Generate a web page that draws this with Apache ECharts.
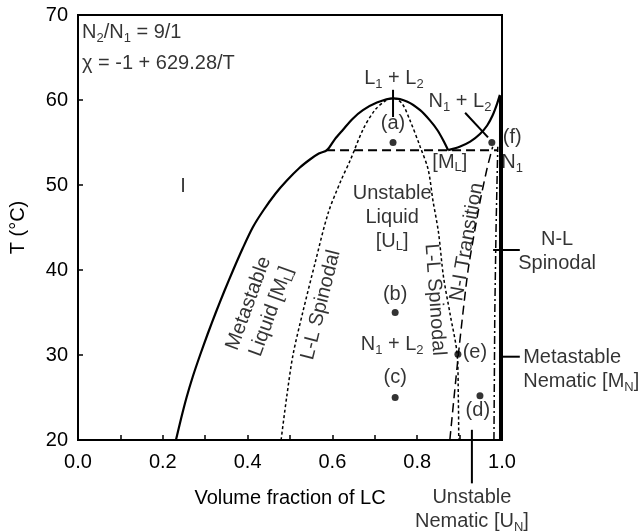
<!DOCTYPE html>
<html>
<head>
<meta charset="utf-8">
<script src="https://cdn.jsdelivr.net/npm/echarts@6/dist/echarts.min.js"></script>
<style>html,body{margin:0;padding:0;background:#fff}#c{width:641px;height:531px}</style>
</head>
<body>
<div id="c"></div>
<script>
// ---- data (x = volume fraction of LC, y = T in °C) ----
const xTicks = [0, 0.2, 0.4, 0.6, 0.8, 1.0];
const yTicks = [20, 30, 40, 50, 60, 70];
const binodalLiquid = [[0.231,20],[0.243,22.5],[0.256,25],[0.271,27.5],[0.288,30],[0.306,32.5],[0.325,35],[0.345,37.5],[0.366,40],[0.388,42.5],[0.412,45],[0.437,47],[0.466,49],[0.492,50.5],[0.522,52],[0.547,53],[0.568,53.7],[0.587,54.1],[0.606,55.4],[0.625,56.5],[0.648,57.8],[0.672,58.8],[0.705,59.7],[0.743,60.2],[0.777,59.8],[0.807,58.8],[0.83,57.6],[0.847,56.5],[0.861,55.3],[0.873,54.1]];
const binodalNematic = [[0.873,54.1],[0.90,54.5],[0.925,55.1],[0.948,56.0],[0.965,57.0],[0.978,58.2],[0.988,59.5],[0.995,60.6]];
const spinodalLL = [[0.479,20],[0.492,25],[0.507,30],[0.53,35],[0.559,40.8],[0.59,46.7],[0.62,50.5],[0.642,52.9],[0.672,56.5],[0.70,58.8],[0.725,59.9],[0.743,60.2],[0.764,59.6],[0.783,57.6],[0.807,54.5],[0.826,51.8],[0.837,48.2],[0.85,44.5],[0.862,39.2],[0.878,34.7],[0.894,30.2],[0.897,25],[0.898,20]];
const tripleLine = [[0.585,54.1],[0.99,54.1]];
const niTransition = [[0.877,20],[0.897,30],[0.92,40],[0.948,48],[0.965,52],[0.978,54.5]];
const nlSpinodal = [[0.981,20],[0.983,35],[0.986,45],[0.99,54.5]];
const nematicBoundary = [[0.997,20],[0.997,60.5]];
const statePoints = [[0.743,55],[0.748,35],[0.748,25],[0.948,25.2],[0.896,30.1],[0.976,55]];
const pointerLines = [
  [0.743,61.2, 0.743,58.0],
  [0.913,58.5, 0.967,55.6],
  [0.979,42.35, 1.042,42.35],
  [0.995,29.8, 1.042,29.8],
  [0.929,21.2, 0.929,14.9]
];
const annotations = [
  {t:'N{s|2}/N{s|1} = 9/1', p:[0.0094,67.9], align:'left'},
  {t:'χ = -1 + 629.28/T', p:[0.0094,64.35], align:'left'},
  {t:'I', p:[0.248,49.8]},
  {t:'L{s|1} + L{s|2}', p:[0.745,62.5]},
  {t:'(a)', p:[0.743,57.2]},
  {t:'N{s|1} + L{s|2}', p:[0.901,59.8]},
  {t:'(f)', p:[1.024,55.6]},
  {t:'N{s|1}', p:[1.024,52.6]},
  {t:'[M{s|L}]', p:[0.877,52.7]},
  {t:'Unstable\nLiquid\n[U{s|L}]', p:[0.741,46.2]},
  {t:'Metastable\nLiquid [M{s|L}]', p:[0.429,35.6], rot:70},
  {t:'L-L Spinodal', p:[0.573,35.9], rot:76},
  {t:'L-L Spinodal', p:[0.842,36.5], rot:-86},
  {t:'N-I Transition', p:[0.917,43.3], rot:80},
  {t:'N-L\nSpinodal', p:[1.13,42.2]},
  {t:'Metastable\nNematic [M{s|N}]', p:[1.05,28.3], align:'left'},
  {t:'Unstable\nNematic [U{s|N}]', p:[0.929,11.8]},
  {t:'N{s|1} + L{s|2}', p:[0.741,31.2]},
  {t:'(b)', p:[0.748,37.1]},
  {t:'(c)', p:[0.748,27.3]},
  {t:'(e)', p:[0.936,30.35]},
  {t:'(d)', p:[0.943,23.5]}
];

const FONT = 'Arial, "Liberation Sans", sans-serif';
const chart = echarts.init(document.getElementById('c'), null, {renderer:'canvas'});

function lineSeries(data, width, type, smooth) {
  return {
    type:'line', data:data, symbol:'none', smooth:smooth || false, clip:false, silent:true,
    lineStyle:{color:'#000', width:width, type:type || 'solid', cap:'butt'}, z:3
  };
}

const series = [
  lineSeries(binodalLiquid, 2.2, 'solid', 0.3),
  lineSeries(binodalNematic, 2.2, 'solid', 0.3),
  lineSeries(spinodalLL, 1.5, [3,2.5], 0.3),
  lineSeries(tripleLine, 2, [9,5]),
  lineSeries(niTransition, 1.5, [9,5], 0.2),
  lineSeries(nlSpinodal, 1.5, [8,3,2,3]),
  lineSeries(nematicBoundary, 3.5, 'solid')
];
series.push({
  type:'scatter', data:statePoints, symbol:'circle', symbolSize:7, clip:false,
  itemStyle:{color:'#000'}, z:5, silent:true
});
series.push({
  type:'scatter', clip:false, silent:true, symbolSize:0, z:6,
  itemStyle:{color:'rgba(0,0,0,0)'},
  data: annotations.map(function(a){
    return {
      value:a.p,
      label:{
        show:true, position:'inside', formatter:a.t,
        align:a.align || 'center', verticalAlign:'middle',
        rotate:a.rot || 0,
        color:'#000', fontFamily:FONT, fontSize:20, lineHeight:24,
        rich:{ s:{fontFamily:FONT, fontSize:13, lineHeight:10, verticalAlign:'bottom', color:'#000'} }
      }
    };
  })
});

chart.setOption({
  animation:false,
  backgroundColor:'#fff',
  grid:{left:78, top:15, width:424, height:425, show:true, borderColor:'#000', borderWidth:2, backgroundColor:'transparent'},
  xAxis:{
    type:'value', min:0, max:1, interval:0.1,
    name:'Volume fraction of LC', nameLocation:'middle', nameGap:48,
    nameTextStyle:{color:'#000', fontFamily:FONT, fontSize:20},
    axisLine:{show:true, lineStyle:{color:'#000', width:2}},
    axisTick:{show:true, inside:true, length:5, lineStyle:{color:'#000', width:1.5}},
    axisLabel:{color:'#000', fontFamily:FONT, fontSize:20, margin:12,
      formatter:function(v){
        for (let i=0;i<xTicks.length;i++){ if (Math.abs(v-xTicks[i])<1e-6) return xTicks[i].toFixed(1); }
        return '';
      }},
    splitLine:{show:false}
  },
  yAxis:{
    type:'value', min:20, max:70, interval:10,
    name:'T (°C)', nameLocation:'middle', nameGap:50, nameRotate:90,
    nameTextStyle:{color:'#000', fontFamily:FONT, fontSize:20},
    axisLine:{show:true, lineStyle:{color:'#000', width:2}},
    axisTick:{show:true, inside:true, length:5, lineStyle:{color:'#000', width:1.5}},
    axisLabel:{color:'#000', fontFamily:FONT, fontSize:20, margin:10,
      formatter:function(v){ return yTicks.indexOf(v) >= 0 ? String(v) : ''; }},
    splitLine:{show:false}
  },
  series:series
});

// leader lines: pixel positions from the chart's own axis scales
const r0 = chart.convertToPixel({gridIndex:0}, [0, 20]);
const r1 = chart.convertToPixel({gridIndex:0}, [1, 70]);
function toPx(x, y) {
  return [r0[0] + (r1[0] - r0[0]) * x,
          r0[1] + (r1[1] - r0[1]) * (y - 20) / 50];
}
const pointerGraphics = pointerLines.map(function(pl, i){
  const a = toPx(pl[0], pl[1]);
  const b = toPx(pl[2], pl[3]);
  return {type:'line', id:'ptr' + i, silent:true, z:100,
    shape:{x1:a[0], y1:a[1], x2:b[0], y2:b[1]},
    style:{stroke:'#000', lineWidth:2}};
});
chart.setOption({graphic:{elements:pointerGraphics}});
</script>
</body>
</html>
